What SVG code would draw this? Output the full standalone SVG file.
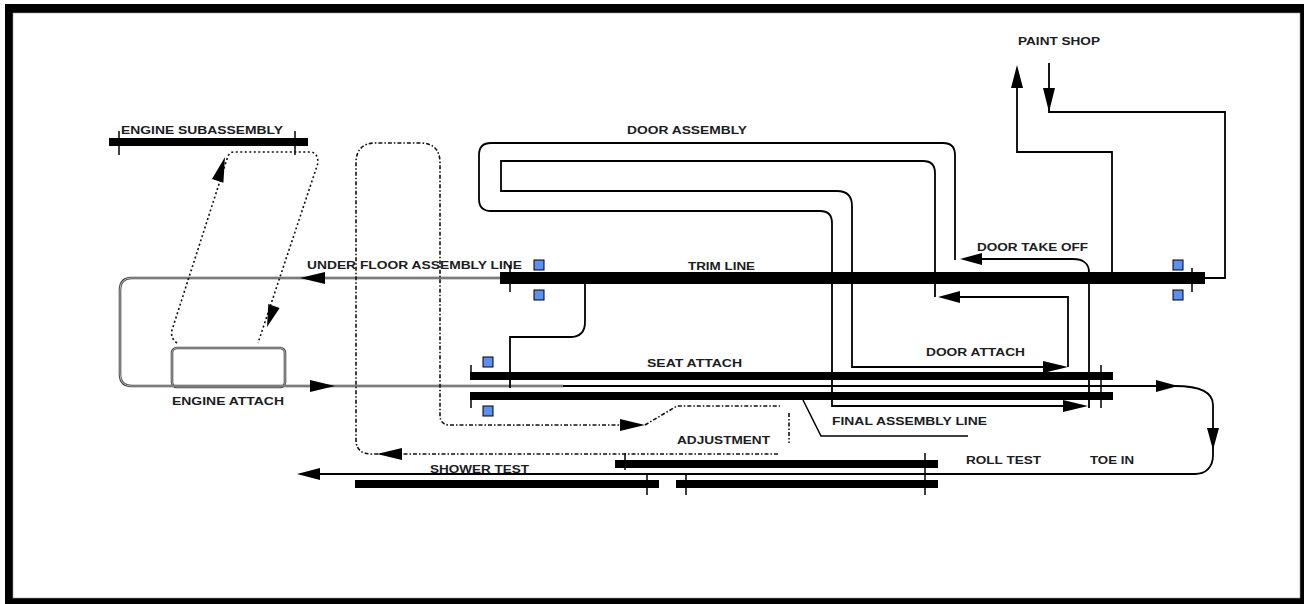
<svg xmlns="http://www.w3.org/2000/svg" width="1304" height="604" viewBox="0 0 1304 604">
<style>
.t{font-family:"Liberation Sans",Arial,sans-serif;font-weight:bold;font-size:11.5px;fill:#1c1c24}
.bar{fill:#000}
.tick{stroke:#000;stroke-width:1.5;fill:none}
.ln{stroke:#000;stroke-width:1.8;fill:none}
.g1{stroke:#444;stroke-width:2.6;fill:none}
.g2{stroke:#d0d0d0;stroke-width:0.8;fill:none}
.dot{stroke:#111;stroke-width:1.6;fill:none;stroke-dasharray:4 2 1.5 2}
.dot2{stroke:#111;stroke-width:1.6;fill:none;stroke-dasharray:2 2.5}
.ah{fill:#000}
.sq{fill:#5b8ff0;stroke:#000;stroke-width:1}
</style>
<rect x="0" y="0" width="1304" height="604" fill="#fff"/>
<rect x="5" y="4" width="1299" height="600" fill="#000"/>
<rect x="13" y="13" width="1287" height="585" fill="#fff" stroke="#999" stroke-width="0.6"/>

<g id="engine-subassembly">
<rect class="bar" x="109" y="138" width="199" height="8"/>
<line class="tick" x1="119" y1="131" x2="119" y2="155"/>
<line class="tick" x1="295" y1="131" x2="295" y2="155"/>
<text class="t" x="121" y="134" textLength="162" lengthAdjust="spacingAndGlyphs">ENGINE SUBASSEMBLY</text>
</g>

<g id="engine-attach">
<rect class="g1" x="172" y="348" width="113" height="39" rx="5"/>
<rect class="g2" x="172" y="348" width="113" height="39" rx="5"/>
<text class="t" x="172" y="405" textLength="112" lengthAdjust="spacingAndGlyphs">ENGINE ATTACH</text>
</g>

<g id="under-floor">
<text class="t" x="307" y="269" textLength="215" lengthAdjust="spacingAndGlyphs">UNDER FLOOR ASSEMBLY LINE</text>
</g>

<g id="trim-line">
<rect class="bar" x="500" y="272" width="705" height="12"/>
<line class="tick" x1="510" y1="265" x2="510" y2="292"/>
<line class="tick" x1="1192" y1="268" x2="1192" y2="292"/>
<rect class="sq" x="534" y="260" width="10" height="10"/>
<rect class="sq" x="534" y="290" width="10" height="10"/>
<rect class="sq" x="1173" y="260" width="10" height="10"/>
<rect class="sq" x="1173" y="290" width="10" height="10"/>
<text class="t" x="688" y="270" textLength="67" lengthAdjust="spacingAndGlyphs">TRIM LINE</text>
</g>

<g id="door-assembly">
<text class="t" x="627" y="134" textLength="120" lengthAdjust="spacingAndGlyphs">DOOR ASSEMBLY</text>
</g>

<g id="paint-shop">
<text class="t" x="1018" y="45" textLength="82" lengthAdjust="spacingAndGlyphs">PAINT SHOP</text>
</g>

<g id="door-take-off">
<text class="t" x="977" y="251" textLength="111" lengthAdjust="spacingAndGlyphs">DOOR TAKE OFF</text>
</g>

<g id="seat-attach">
<rect class="bar" x="470" y="372" width="643" height="8"/>
<rect class="sq" x="483" y="357" width="10" height="10"/>
<line class="tick" x1="471" y1="365" x2="471" y2="380"/>
<text class="t" x="647" y="367" textLength="95" lengthAdjust="spacingAndGlyphs">SEAT ATTACH</text>
</g>

<g id="final-assembly-line">
<rect class="bar" x="470" y="392" width="643" height="8"/>
<rect class="sq" x="483" y="406" width="10" height="10"/>
<line class="tick" x1="471" y1="392" x2="471" y2="408"/>
<line class="tick" x1="1101" y1="365" x2="1101" y2="408"/>
<path class="ln" style="stroke-width:1.5" d="M803 400 L821 436 L968 436"/>
<text class="t" x="832" y="425" textLength="155" lengthAdjust="spacingAndGlyphs">FINAL ASSEMBLY LINE</text>
</g>

<g id="door-attach">
<text class="t" x="926" y="356" textLength="99" lengthAdjust="spacingAndGlyphs">DOOR ATTACH</text>
</g>

<g id="adjustment">
<text class="t" x="677" y="444" textLength="93" lengthAdjust="spacingAndGlyphs">ADJUSTMENT</text>
</g>

<g id="roll-test">
<rect class="bar" x="615" y="460" width="323" height="8"/>
<rect class="bar" x="676" y="480" width="262" height="8"/>
<line class="tick" x1="625" y1="453" x2="625" y2="470"/>
<line class="tick" x1="925" y1="453" x2="925" y2="495"/>
<line class="tick" x1="686" y1="474" x2="686" y2="495"/>
<text class="t" x="966" y="464" textLength="75" lengthAdjust="spacingAndGlyphs">ROLL TEST</text>
</g>

<g id="toe-in">
<text class="t" x="1090" y="464" textLength="44" lengthAdjust="spacingAndGlyphs">TOE IN</text>
</g>

<g id="shower-test">
<rect class="bar" x="355" y="480" width="304" height="8"/>
<line class="tick" x1="647" y1="474" x2="647" y2="495"/>
<text class="t" x="430" y="473" textLength="99" lengthAdjust="spacingAndGlyphs">SHOWER TEST</text>
</g>

<g id="connectors">
<path class="g1" d="M500 278 L132 278 Q120 278 120 290 L120 374 Q120 386 132 386 L563 386"/>
<path class="g2" d="M500 278 L132 278 Q120 278 120 290 L120 374 Q120 386 132 386 L563 386"/>
<polygon class="ah" points="300,278 325,272 325,284"/>
<polygon class="ah" points="335,386 310,380 310,392"/>
<path class="ln" d="M563 386 L1175 386 C1200 386 1213 392 1213 405 L1213 455 C1213 468 1205 474 1195 474 L300 474"/>
<polygon class="ah" points="1178,386 1156,380 1156,392"/>
<polygon class="ah" points="1213,450 1207,428 1219,428"/>
<polygon class="ah" points="297,474 320,468 320,480"/>
<path class="ln" d="M585 284 L585 322 Q585 337 570 337 L510 337 L510 388"/>
<path class="ln" d="M1112 272 L1112 152 L1017 152 L1017 80"/>
<polygon class="ah" points="1017,65 1011,88 1023,88"/>
<path class="ln" d="M1049 63 L1049 112 L1225 112 L1225 278 L1200 278"/>
<polygon class="ah" points="1049,112 1043,88 1055,88"/>
<path class="ln" d="M1089 408 L1089 272 C1089 263 1082 259 1073 259 L975 259"/>
<polygon class="ah" points="960,259 982,253 982,265"/>
<path class="ln" d="M955 260 L955 155 Q955 143 943 143 L491 143 Q479 143 479 155 L479 199 Q479 211 491 211 L820 211 Q832 211 832 223 L832 406 L1070 406"/>
<polygon class="ah" points="1088,406 1063,400 1063,412"/>
<path class="ln" d="M1068 367 L1068 297 L955 297"/>
<polygon class="ah" points="938,297 960,291 960,303"/>
<path class="ln" d="M935 297 L935 173 Q935 161 923 161 L501 161 L501 191 L837 191 Q852 191 852 206 L852 367 L1050 367"/>
<polygon class="ah" points="1068,367 1043,361 1043,373"/>
<path class="dot2" d="M177 343 Q170 338 172 330 L228 156 Q230 152 234 152 L311 152 Q318 153 318 163 L258 343"/>
<polygon class="ah" points="225,157 223.4,182.7 212,179.1"/>
<polygon class="ah" points="267,327 279.7,307.9 268.3,304.1"/>
<path class="dot" d="M625 425 L450 425 Q440 425 440 415 L440 163 Q440 143 420 143 L376 143 Q356 143 356 163 L356 440 Q356 454 372 454 L385 454"/>
<polygon class="ah" points="645,425 620,419 620,431"/>
<path class="dot" d="M645 425 L677 406 L780 406"/>
<path class="dot" d="M789 413 L789 443"/>
<path class="dot" d="M778 454 L400 454"/>
<polygon class="ah" points="377,454 402,448 402,460"/>
</g>
</svg>
